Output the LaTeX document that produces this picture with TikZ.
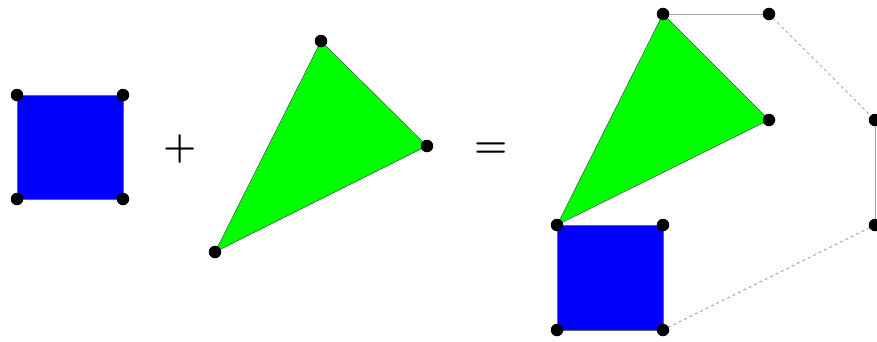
\documentclass[tikz,border=0pt]{standalone}
\usepackage{fontspec}
\begin{document}
\begin{tikzpicture}[x=1pt,y=-1pt,
  pt/.style={circle,fill=black,inner sep=0pt,minimum size=12.5pt},
  sq/.style={fill=blue,draw=black!60,line width=0.5pt},
  tri/.style={fill=green,draw=black!70,line width=0.5pt},
  hull/.style={draw=black!35,line width=1pt},
  hulld/.style={draw=black!35,line width=1pt,dash pattern=on 3pt off 3pt},
  op/.style={font=\fontsize{38}{38}\selectfont\bfseries,inner sep=0pt}]
\useasboundingbox (0,0) rectangle (877,341);
% left square
\coordinate (a1) at (17,95); \coordinate (a2) at (123,95);
\coordinate (a3) at (123,199); \coordinate (a4) at (17,199);
\path[sq] (a1) -- (a2) -- (a3) -- (a4) -- cycle;
\foreach \p in {a1,a2,a3,a4} \node[pt] at (\p) {};
\node[op] (plus) at (180,149) {+};
% triangle
\coordinate (b1) at (321,41); \coordinate (b2) at (427,146); \coordinate (b3) at (215,252);
\path[tri] (b1) -- (b2) -- (b3) -- cycle;
\foreach \p in {b1,b2,b3} \node[pt] at (\p) {};
\node[op] (eq) at (491,150) {=};
% result
\coordinate (c1) at (663,14); \coordinate (c2) at (769,120); \coordinate (c3) at (557,225);
\coordinate (d1) at (557,225); \coordinate (d2) at (663,225);
\coordinate (d3) at (663,330); \coordinate (d4) at (557,330);
\coordinate (h1) at (769,14); \coordinate (h2) at (875,120); \coordinate (h3) at (875,225);
\path[hull] (c1) -- (h1);
\path[hulld] (h1) -- (h2);
\path[hull] (h2) -- (h3);
\path[hulld] (h3) -- (d3);
\path[tri] (c1) -- (c2) -- (c3) -- cycle;
\path[sq] (d1) -- (d2) -- (d3) -- (d4) -- cycle;
\foreach \p in {c1,c2,d1,d2,d3,d4,h1,h2,h3} \node[pt] at (\p) {};
\end{tikzpicture}
\end{document}
